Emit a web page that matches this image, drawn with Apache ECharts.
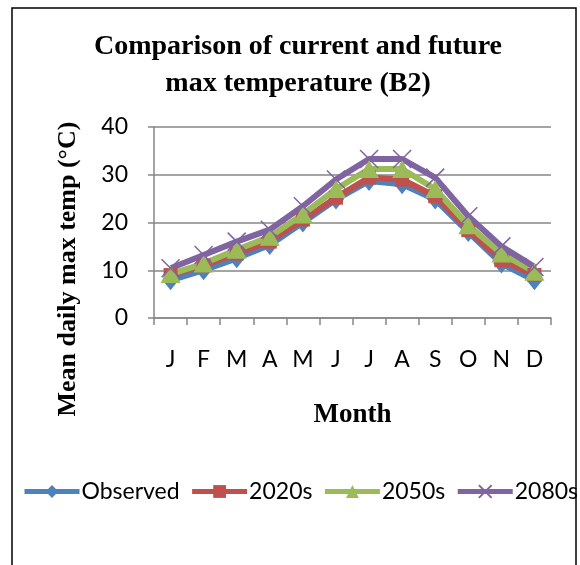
<!DOCTYPE html>
<html>
<head>
<meta charset="utf-8">
<script src="https://cdn.jsdelivr.net/npm/echarts@6/dist/echarts.min.js"></script>
<style>
  html, body { margin: 0; padding: 0; background: #fff; }
  #chart { width: 580px; height: 565px; }
</style>
</head>
<body>
<div id="chart"></div>
<script>
// 月份 & 各情景最高气温
const months = ['J', 'F', 'M', 'A', 'M', 'J', 'J', 'A', 'S', 'O', 'N', 'D'];
const observed = [7.9, 10, 12.5, 15.3, 20, 24.8, 28.7, 28, 24.8, 18, 11.4, 7.9];
const s2020 = [9, 11, 13.5, 16, 20.6, 25.2, 29.4, 29, 25.5, 18.4, 12.1, 9];
const s2050 = [9.2, 11.4, 14.3, 17, 21.7, 27, 31.2, 31.2, 27, 19.4, 13.5, 9.7];
const s2080 = [10.4, 13.2, 16, 18.5, 23.4, 29, 33.3, 33.3, 29.4, 21.3, 15, 10.7];
const yTicks = [0, 10, 20, 30, 40];

const serif = '"Liberation Serif", "DejaVu Serif", serif';
const sans = 'Lato, "Noto Sans", sans-serif';
const gray = '#868686';

const chart = echarts.init(document.getElementById('chart'));

function makeLine(name, data, color, symbol, size, extra) {
  return Object.assign({
    name: name,
    type: 'line',
    data: data,
    symbol: symbol,
    symbolSize: size,
    lineStyle: { color: color, width: 6 },
    itemStyle: { color: color },
    emphasis: { disabled: true },
    animation: false,
  }, extra || {});
}

const option = {
  backgroundColor: '#fff',
  title: {
    text: 'Comparison of current and future\nmax temperature (B2)',
    left: 298,
    top: 28,
    padding: 0,
    textAlign: 'center',
    textStyle: {
      fontFamily: serif,
      fontWeight: 'bold',
      fontSize: 28,
      lineHeight: 37,
      color: '#000',
    },
  },
  graphic: [
    {
      type: 'rect',
      shape: { x: 12, y: 8, width: 564, height: 600 },
      style: { fill: 'none', stroke: '#000', lineWidth: 1.5 },
      silent: true,
    },
    {
      type: 'text',
      x: 68,
      y: 269,
      rotation: Math.PI / 2,
      style: {
        text: 'Mean daily max temp (°C)',
        fontFamily: serif,
        fontWeight: 'bold',
        fontSize: 26,
        fill: '#000',
        align: 'center',
        verticalAlign: 'middle',
      },
      silent: true,
    },
  ],
  legend: {
    left: 22,
    top: 480,
    padding: 0,
    width: 570,
    itemWidth: 55,
    itemHeight: 16,
    itemGap: 10,
    lineStyle: { width: 5 },
    textStyle: { fontFamily: sans, fontSize: 23, color: '#000', padding: [0, 0, 0, -3] },
    data: ['Observed', '2020s', '2050s', '2080s'],
  },
  grid: {
    left: 154,
    right: 29,
    top: 127,
    bottom: 247,
  },
  xAxis: {
    type: 'category',
    data: months,
    boundaryGap: true,
    name: 'Month',
    nameLocation: 'middle',
    nameGap: 84,
    nameTextStyle: { fontFamily: serif, fontWeight: 'bold', fontSize: 27, color: '#000' },
    axisLine: { lineStyle: { color: gray, width: 1.5 } },
    axisTick: { show: true, inside: false, length: 7, interval: 0, lineStyle: { color: gray, width: 1.5 } },
    axisLabel: { interval: 0, margin: 30, fontFamily: sans, fontSize: 23, color: '#000' },
  },
  yAxis: {
    type: 'value',
    min: yTicks[0],
    max: yTicks[yTicks.length - 1],
    interval: 10,
    axisLine: { show: true, lineStyle: { color: gray, width: 1.5 } },
    axisTick: { show: true, inside: false, length: 6, lineStyle: { color: gray, width: 1.5 } },
    axisLabel: { margin: 26, fontFamily: sans, fontSize: 23, color: '#000' },
    splitLine: { lineStyle: { color: gray, width: 1.5 } },
  },
  series: [
    makeLine('Observed', observed, '#4f81bd', 'diamond', [16, 20]),
    makeLine('2020s', s2020, '#c0504d', 'rect', 14),
    makeLine('2050s', s2050, '#9bbb59', 'triangle', [20, 18]),
    makeLine('2080s', s2080, '#8064a2', 'path://M0,0L10,10M10,0L0,10', 18, {
      itemStyle: { color: 'none', borderColor: '#8064a2', borderWidth: 1.5 },
    }),
  ],
};

chart.setOption(option);
</script>
</body>
</html>
